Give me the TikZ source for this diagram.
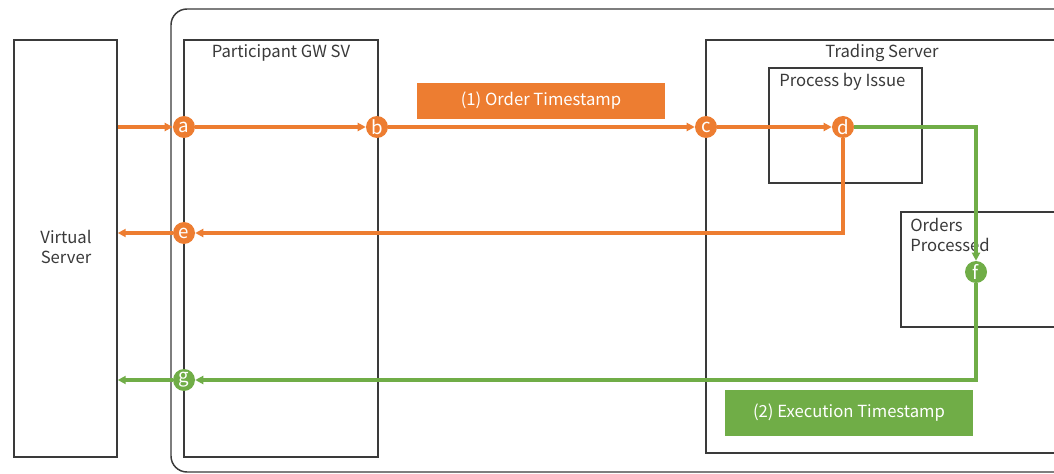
\documentclass[tikz,border=0pt]{standalone}
\usepackage{fontspec}
\setmainfont{Noto Sans CJK JP}
\usetikzlibrary{arrows.meta,fit}
\definecolor{ordr}{HTML}{ED7D31}
\definecolor{exec}{HTML}{70AD47}
\definecolor{ink}{HTML}{3A3A3A}
\begin{document}
\begin{tikzpicture}[x=0.75pt,y=-0.75pt,
  box/.style={draw=ink,line width=1.1pt,inner sep=0pt},
  lbl/.style={text=ink,font=\fontsize{12.5}{15}\selectfont,inner sep=0pt},
  pt/.style={circle,fill=#1,text=white,minimum size=16.5pt,inner sep=0pt,
    font=\fontsize{14}{14}\selectfont},
  flow/.style={draw=#1,line width=2.3pt,-{Triangle[length=6pt,width=6pt]}},
  tag/.style={fill=#1,text=white,inner sep=0pt,font=\fontsize{12.5}{15}\selectfont}]
\useasboundingbox (0,0) rectangle (1054,474);
\fill[white] (0,0) rectangle (1054,474);

% outer housing
\draw[ink,line width=1.1pt,rounded corners=12pt] (171,9) rectangle (1085,472);

% servers
\node[box,fit={(14,40) (117,457)}] (vs) {};
\node[lbl,align=center] at (66,247) {Virtual\\Server};
\node[box,fit={(184,40) (378,457)}] (gw) {};
\node[lbl] at (281,53) {Participant GW SV};
\node[box,fit={(706,40) (1085,453)}] (ts) {};
\node[lbl] at (882,53) {Trading Server};
\node[box,fit={(769,68) (922,183)}] (pbi) {};
\node[lbl,anchor=west] at (779,82) {Process by Issue};
\node[box,fit={(901,212) (1085,327)}] (op) {};
\node[lbl,anchor=north west,align=left] at (910,218) {Orders\\Processed};

% timestamp tags
\node[tag=ordr,minimum width=186pt,minimum height=27pt] (t1) at (541,101) {(1) Order Timestamp};
\node[tag=exec,minimum width=186pt,minimum height=34pt] (t2) at (849,413) {(2) Execution Timestamp};

% measurement points
\node[pt=ordr] (a) at (184,127) {a};
\node[pt=ordr] (b) at (377,127) {b};
\node[pt=ordr] (c) at (706,127) {c};
\node[pt=ordr] (d) at (843,127) {d};
\node[pt=ordr] (e) at (184,233) {e};
\node[pt=exec] (f) at (976,272) {f};
\node[pt=exec] (g) at (184,380) {g};

% order path
\draw[flow=ordr] (vs.east |- a) -- (a);
\draw[flow=ordr] (a) -- (b);
\draw[flow=ordr] (b) -- (c);
\draw[flow=ordr] (c) -- (d);
\draw[flow=ordr] (d) |- (e);
\draw[flow=ordr] (e) -- (vs.east |- e);

% execution path
\draw[flow=exec] (d) -| (f);
\draw[flow=exec] (f) |- (g);
\draw[flow=exec] (g) -- (vs.east |- g);
\end{tikzpicture}
\end{document}
